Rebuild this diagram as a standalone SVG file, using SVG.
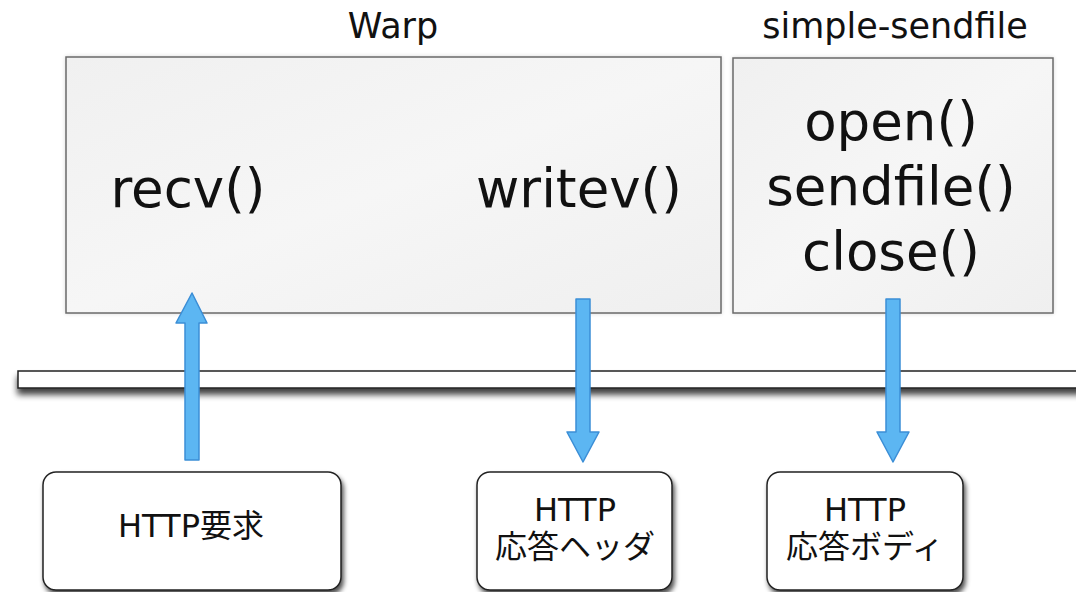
<svg xmlns="http://www.w3.org/2000/svg" width="1076" height="592" viewBox="0 0 1076 592">
  <defs>
    <linearGradient id="panelFill" x1="0" y1="0" x2="1" y2="1">
      <stop offset="0" stop-color="#f0f0f0"/>
      <stop offset="0.5" stop-color="#f6f6f6"/>
      <stop offset="1" stop-color="#efefef"/>
    </linearGradient>
    <filter id="dropShadow" x="-10%" y="-10%" width="125%" height="130%">
      <feGaussianBlur in="SourceAlpha" stdDeviation="2.5"/>
      <feOffset dx="2" dy="4" result="b"/>
      <feComponentTransfer><feFuncA type="linear" slope="0.7"/></feComponentTransfer>
      <feMerge><feMergeNode/><feMergeNode in="SourceGraphic"/></feMerge>
    </filter>
    <filter id="barShadow" x="-5%" y="-50%" width="110%" height="250%">
      <feGaussianBlur in="SourceAlpha" stdDeviation="3"/>
      <feOffset dx="0" dy="6" result="b"/>
      <feComponentTransfer><feFuncA type="linear" slope="0.75"/></feComponentTransfer>
      <feMerge><feMergeNode/><feMergeNode in="SourceGraphic"/></feMerge>
    </filter>
    <filter id="softGlow" x="-20%" y="-20%" width="140%" height="140%">
      <feGaussianBlur in="SourceAlpha" stdDeviation="2"/>
      <feComponentTransfer><feFuncA type="linear" slope="0.15"/></feComponentTransfer>
      <feMerge><feMergeNode/><feMergeNode in="SourceGraphic"/></feMerge>
    </filter>
  </defs>
  <style>
    .title { font-family: "DejaVu Sans", "Noto Sans", sans-serif; font-size: 35px; fill: #111; text-anchor: middle; }
    .call { font-family: "DejaVu Sans", "Noto Sans", sans-serif; font-size: 53px; fill: #111; text-anchor: middle; }
    .label { font-family: "DejaVu Sans", "Noto Sans CJK JP", sans-serif; font-size: 32px; fill: #111; text-anchor: middle; }
    .panel { fill: url(#panelFill); stroke: #6a6a6a; stroke-width: 1.5; }
    .box { fill: #ffffff; stroke: #222; stroke-width: 1.5; }
    .arrow { fill: #5cb6f2; stroke: #3b8ed6; stroke-width: 1.5; stroke-linejoin: round; }
  </style>

  <rect width="1076" height="592" fill="#ffffff"/>

  <!-- library labels -->
  <text class="title" x="393" y="38">Warp</text>
  <text class="title" x="895" y="38">simple-sendfile</text>

  <!-- Warp panel -->
  <g id="warp">
    <rect class="panel" x="66" y="57" width="655" height="256" filter="url(#softGlow)"/>
    <text class="call" x="188" y="207">recv()</text>
    <text class="call" x="579" y="207">writev()</text>
  </g>

  <!-- simple-sendfile panel -->
  <g id="simple-sendfile">
    <rect class="panel" x="733" y="58" width="320" height="255" filter="url(#softGlow)"/>
    <text class="call" x="891" y="140">open()</text>
    <text class="call" x="891" y="205">sendfile()</text>
    <text class="call" x="891" y="270">close()</text>
  </g>

  <!-- kernel boundary bar -->
  <g id="boundary">
    <rect x="18" y="371" width="1070" height="17" fill="#ffffff" stroke="#222" stroke-width="1.5" filter="url(#barShadow)"/>
  </g>

  <!-- connectors -->
  <g id="connectors">
    <path class="arrow" d="M185,460 L185,323 L176,323 L192,293 L207,323 L199,323 L199,460 Z"/>
    <path class="arrow" d="M576,299 L590,299 L590,432 L599,432 L583,462 L567,432 L576,432 Z"/>
    <path class="arrow" d="M886,299 L900,299 L900,432 L909,432 L893,462 L877,432 L886,432 Z"/>
  </g>

  <!-- endpoints -->
  <g id="http-request">
    <rect class="box" x="43" y="472" width="298" height="118" rx="13" filter="url(#dropShadow)"/>
    <text class="label" x="191" y="537">HTTP要求</text>
  </g>
  <g id="http-response-header">
    <rect class="box" x="477" y="472" width="195" height="118" rx="13" filter="url(#dropShadow)"/>
    <text class="label" x="575" y="521">HTTP</text>
    <text class="label" x="575" y="558">応答ヘッダ</text>
  </g>
  <g id="http-response-body">
    <rect class="box" x="767" y="472" width="196" height="118" rx="13" filter="url(#dropShadow)"/>
    <text class="label" x="865" y="521">HTTP</text>
    <text class="label" x="865" y="558">応答ボディ</text>
  </g>
</svg>
